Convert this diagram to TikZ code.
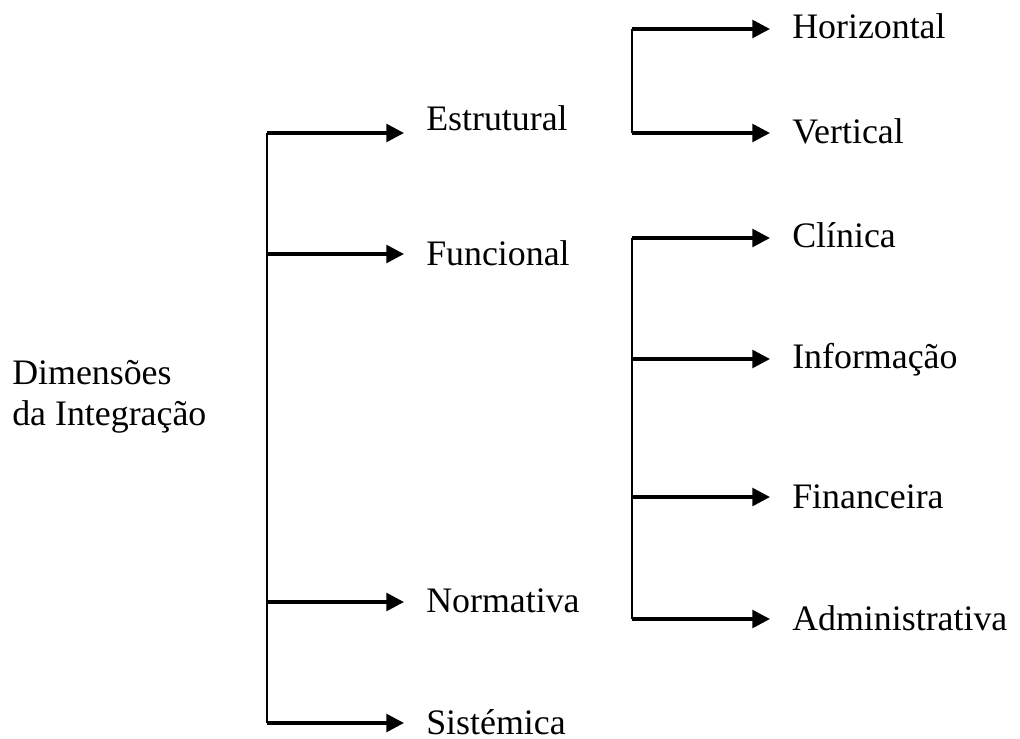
\documentclass[tikz,border=0pt]{standalone}
\usepackage{fontspec}
\setmainfont{Liberation Serif}
\usetikzlibrary{arrows.meta}
\tikzset{
  item/.style={anchor=base west,inner xsep=0.55cm,inner ysep=0pt,font=\fontsize{25.5}{28.5}\selectfont},
  spine/.style={line width=1.9pt},
  branch/.style={line width=2.5pt,-{Triangle[length=12.5pt,width=12.5pt]}}
}
\begin{document}
\begin{tikzpicture}
      \useasboundingbox (0,0) rectangle (25.5,-18.45);
      \node[item,inner xsep=0pt,align=left] (dim) at (0.3,-10.625) {Dimensões\\da Integração};
      \draw
        (10.1,-3.275) node[item] (est){Estrutural}
        (10.1,-6.625) node[item] (fun){Funcional}
        (10.1,-15.3) node[item] (nor){Normativa}
        (10.1,-18.35) node[item] (sis){Sistémica}
        (19.25,-0.975) node[item] (hor){Horizontal}
        (19.25,-3.575) node[item] (ver){Vertical}
        (19.25,-6.175) node[item] (cli){Clínica}
        (19.25,-9.2) node[item] (inf){Informação}
        (19.25,-12.7) node[item] (fin){Financeira}
        (19.25,-15.75) node[item] (adm){Administrativa};
      \coordinate (a1) at (6.675,-3.325);
      \coordinate (a2) at (6.675,-6.35);
      \coordinate (a3) at (6.675,-15.05);
      \coordinate (a4) at (6.675,-18.075);
      \coordinate (b1) at (15.8,-0.725);
      \coordinate (b2) at (15.8,-3.325);
      \coordinate (c1) at (15.8,-5.95);
      \coordinate (c2) at (15.8,-8.975);
      \coordinate (c3) at (15.8,-12.425);
      \coordinate (c4) at (15.8,-15.475);
      \draw[spine] (a1) -- (a4);
      \draw[spine] (b1) -- (b2);
      \draw[spine] (c1) -- (c4);
      \begin{scope}[branch]
        \draw (a1) to (a1 -| est.west);
        \draw (a2) to (a2 -| fun.west);
        \draw (a3) to (a3 -| nor.west);
        \draw (a4) to (a4 -| sis.west);
        \draw (b1) to (b1 -| hor.west);
        \draw (b2) to (b2 -| ver.west);
        \draw (c1) to (c1 -| cli.west);
        \draw (c2) to (c2 -| inf.west);
        \draw (c3) to (c3 -| fin.west);
        \draw (c4) to (c4 -| adm.west);
      \end{scope}
    \end{tikzpicture}
\end{document}
